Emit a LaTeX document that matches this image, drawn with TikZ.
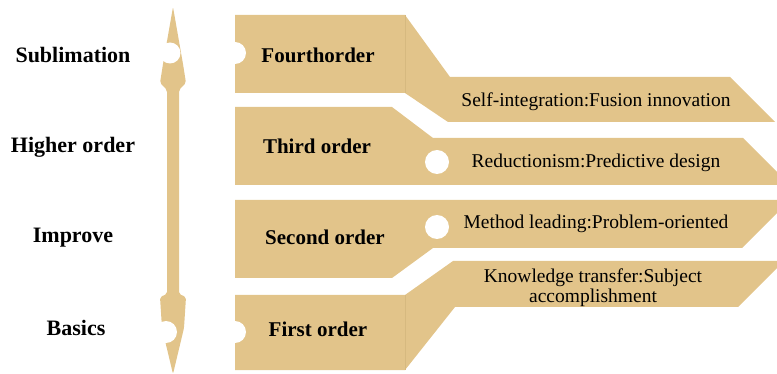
\documentclass[tikz,border=0pt]{standalone}
\usepackage{fontspec}
\setmainfont{Liberation Serif}
\definecolor{bandfill}{HTML}{E2C48A}
\definecolor{bandseam}{HTML}{D6B97F}
\tikzset{
  band/.style={fill=bandfill},
  seam/.style={draw=bandseam, line width=0.8pt},
  hole/.style={fill=white},
  levellabel/.style={anchor=base, inner sep=0pt, font=\bfseries\fontsize{22pt}{24pt}\selectfont},
  orderlabel/.style={anchor=base, inner sep=0pt, font=\bfseries\fontsize{21pt}{23pt}\selectfont},
  desclabel/.style={anchor=base, inner sep=0pt, font=\fontsize{19.5pt}{20pt}\selectfont, align=center}
}
\begin{document}
\begin{tikzpicture}[x=1pt,y=-1pt]
\useasboundingbox (0,0) rectangle (777,374);
\clip (0,0) rectangle (777,374);

% double arrow
\fill[band, rounded corners=2pt] (173,7) -- (183,64) -- (186,83) -- (179,90) -- (179,294)
  -- (186,297) -- (184,328) -- (173,374) -- (162,328) -- (160,297) -- (167,294)
  -- (167,90) -- (160,83) -- (163,64) -- cycle;
\fill[hole] (170,53) circle (10.5);
\fill[hole] (166,332) circle (11);

% fourth order
\fill[band] (235,15) -- (405,15) -- (450,77) -- (730,77) -- (775,122) -- (448,122)
  -- (405,93) -- (235,93) -- cycle;
\draw[seam] (405,15) -- (405,93);
\fill[hole] (235,53) circle (11);

% third order
\fill[band] (235,107) -- (392,107) -- (433,138) -- (743,138) -- (790,185) -- (235,185) -- cycle;
\fill[hole] (437,162) circle (12);

% second order
\fill[band] (235,200) -- (790,200) -- (742,248) -- (433,248) -- (392,278) -- (235,278) -- cycle;
\fill[hole] (437,227) circle (12);

% first order
\fill[band] (235,295) -- (405,295) -- (453,261) -- (784,261) -- (738,307) -- (455,307)
  -- (405,370) -- (235,370) -- cycle;
\draw[seam] (405,295) -- (405,370);
\fill[hole] (235,332) circle (11);

% left labels
\node[levellabel] (sub) at (73,63) {Sublimation};
\node[levellabel] (high) at (73,153) {Higher order};
\node[levellabel] (imp) at (73,243) {Improve};
\node[levellabel] (bas) at (76,335) {Basics};

% order labels
\node[orderlabel] (o4) at (318,63) {Fourthorder};
\node[orderlabel] (o3) at (317,154) {Third order};
\node[orderlabel] (o2) at (325,245) {Second order};
\node[orderlabel] (o1) at (318,336) {First order};

% descriptions
\node[desclabel] (d4) at (596,107) {Self-integration:Fusion innovation};
\node[desclabel] (d3) at (596,168) {Reductionism:Predictive design};
\node[desclabel] (d2) at (596,229) {Method leading:Problem-oriented};
\node[desclabel, anchor=center] (d1) at (593,288) {Knowledge transfer:Subject\\accomplishment};
\end{tikzpicture}
\end{document}
